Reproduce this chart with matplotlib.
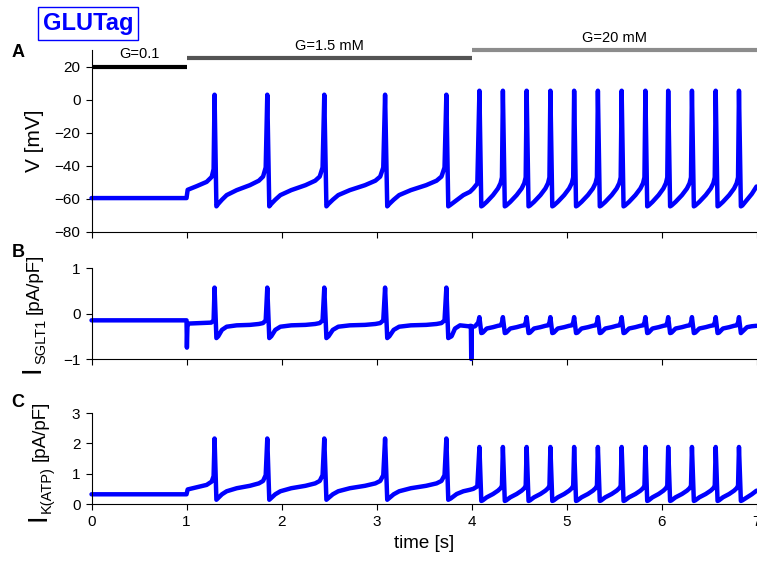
import numpy as np
import matplotlib.pyplot as plt

plt.rcParams['font.family'] = ['Liberation Sans', 'DejaVu Sans']

# Spike times [s]
spikes_15 = [1.295, 1.85, 2.45, 3.09, 3.735]                       # G=1.5 mM
spikes_20 = [4.083, 4.33, 4.58, 4.83, 5.08, 5.33, 5.58, 5.83,
             6.07, 6.32, 6.57, 6.815]                               # G=20 mM

# Points of one interspike interval (fraction of the interval)
phase_15 = [0.0, 0.035, 0.07, 0.14, 0.23, 0.42, 0.67, 0.84, 0.92, 0.97]
phase_20 = [0.0, 0.08, 0.14, 0.31, 0.58, 0.79, 0.9, 0.96]

# --- A: membrane potential [mV]
peak_A = [3.0, 5.4]
cyc15_A = [-64.5, -63, -60.5, -57.7, -54.7, -51.7, -49, -46.5, -41]
cyc20_A = [-64.5, -64, -61.8, -57.7, -53.7, -50.5, -47]
pre_t = [0, 1.0, 1.012, 1.107, 1.212, 1.265, 1.285]
pre_A = [-59.5, -59.5, -54.5, -52.3, -49.7, -46.7, -42]
trans_t = [3.755, 3.78, 3.844, 3.914, 3.984, 4.019, 4.061]
trans_A = [-64.5, -63.5, -60.7, -57.7, -55.7, -53.7, -50.7]
tail_t = [6.835, 6.85, 6.9, 6.95, 7.0]
tail_A = [-64.5, -64, -60.5, -57, -52.5]

# --- B: SGLT1 current [pA/pF]
peak_B = [0.57, -0.08]
cyc15_B = [-0.54, -0.5, -0.36, -0.29, -0.26, -0.25, -0.23, -0.21, -0.15]
cyc20_B = [-0.43, -0.42, -0.33, -0.3, -0.27, -0.26, -0.2]
pre_tB = [0, 1.0, 1.004, 1.01, 1.03, 1.26, 1.285]
pre_B = [-0.15, -0.15, -0.75, -0.25, -0.22, -0.2, -0.15]
trans_tB = [3.755, 3.79, 3.826, 3.879, 3.966, 3.993, 3.997, 4.003, 4.037, 4.07]
trans_B = [-0.54, -0.5, -0.33, -0.26, -0.28, -0.27, -1.0, -0.3, -0.28, -0.2]
tail_B = [-0.43, -0.4, -0.3, -0.28, -0.27]

# --- C: K(ATP) current [pA/pF]
peak_C = [2.16, 1.88]
cyc15_C = [0.14, 0.2, 0.32, 0.42, 0.52, 0.6, 0.68, 0.76, 0.95]
cyc20_C = [0.1, 0.12, 0.22, 0.33, 0.44, 0.52, 0.6]
pre_C = [0.32, 0.32, 0.48, 0.55, 0.63, 0.74, 0.92]
trans_C = [0.14, 0.18, 0.33, 0.42, 0.47, 0.5, 0.58]
tail_C = [0.1, 0.12, 0.22, 0.32, 0.44]

# glucose protocol bars
g_labels = ['G=0.1', 'G=1.5 mM', 'G=20 mM']
g_start = [0, 1, 4]
g_end = [1, 4, 7]
g_level = [20, 25, 30]
g_colors = ['k', '0.33', '0.55']


def build_trace(pre_tt, pre_v, peaks, cyc15, cyc20, tr_t, tr_v, tl_v):
    t = list(pre_tt)
    v = list(pre_v)
    for i, s in enumerate(spikes_15):
        t.append(s)
        v.append(peaks[0])
        if i + 1 < len(spikes_15):
            dt = spikes_15[i + 1] - s
            t += [s + p * dt for p in phase_15[1:]]
            v += cyc15
    t += tr_t
    v += tr_v
    for i, s in enumerate(spikes_20):
        t.append(s)
        v.append(peaks[1])
        if i + 1 < len(spikes_20):
            dt = spikes_20[i + 1] - s
            t += [s + p * dt for p in phase_20[1:]]
            v += cyc20
    t += tail_t
    v += tl_v
    return np.array(t), np.array(v)


tA, vA = build_trace(pre_t, pre_A, peak_A, cyc15_A, cyc20_A, trans_t, trans_A, tail_A)
tB, vB = build_trace(pre_tB, pre_B, peak_B, cyc15_B, cyc20_B, trans_tB, trans_B, tail_B)
tC, vC = build_trace(pre_t, pre_C, peak_C, cyc15_C, cyc20_C, trans_t, trans_C, tail_C)

W, H = 757, 562
fig = plt.figure(figsize=(W / 100, H / 100), dpi=100)
left, width = 0.1209, 0.8785
axA = fig.add_axes([left, 0.5872, width, 0.3238])
axB = fig.add_axes([left, 0.3612, width, 0.1619])
axC = fig.add_axes([left, 0.1032, width, 0.1619])

blue = (0, 0, 1)
minus = plt.FuncFormatter(lambda y, p: f'{y:g}'.replace('-', '\u2212'))
for ax, t, v in [(axA, tA, vA), (axB, tB, vB), (axC, tC, vC)]:
    ax.plot(t, v, color=blue, lw=3.2, solid_joinstyle='round',
            solid_capstyle='round', clip_on=False)
    ax.set_xlim(0, 7)
    ax.set_xticks(range(8))
    ax.spines['top'].set_visible(False)
    ax.spines['right'].set_visible(False)
    ax.tick_params(direction='out', length=4.5, width=0.8, labelsize=11)
    ax.yaxis.set_major_formatter(minus)
    ax.patch.set_alpha(0)

axA.set_ylim(-80, 30)
axA.set_yticks([-80, -60, -40, -20, 0, 20])
axB.set_ylim(-1, 1)
axB.set_yticks([-1, 0, 1])
axC.set_ylim(0, 3)
axC.set_yticks([0, 1, 2, 3])
axA.set_xticklabels([])
axB.set_xticklabels([])

# glucose steps above the voltage trace
for lab, x0, x1, lev, c in zip(g_labels, g_start, g_end, g_level, g_colors):
    axA.plot([x0, x1], [lev, lev], color=c, lw=3, solid_capstyle='butt', clip_on=False)
    axA.text((x0 + x1) / 2, lev + 7.5, lab, ha='center', va='center', fontsize=10.5)

axC.set_xlabel('time [s]', fontsize=13.5)


def stacked_ylabel(x_px, yc_px, parts, gaps):
    # vertical label built from pieces of different size: (text, size, baseline shift)
    r = fig.canvas.get_renderer()
    lens = []
    for s, fs, _ in parts:
        tmp = fig.text(0, 0, s, fontsize=fs, rotation=90)
        lens.append(tmp.get_window_extent(r).height)
        tmp.remove()
    y = yc_px + (sum(lens) + sum(gaps)) / 2
    for k, ((s, fs, dx), L) in enumerate(zip(parts, lens)):
        fig.text((x_px + dx) / W, 1 - y / H, s, fontsize=fs, rotation=90,
                 rotation_mode='anchor', ha='left', va='baseline')
        y -= L + (gaps[k] if k < len(gaps) else 0)


fig.text(40 / W, 1 - 141 / H, 'V [mV]', fontsize=15, rotation=90,
         rotation_mode='anchor', ha='center', va='baseline')
stacked_ylabel(39, 313.5, [('I', 20, 0), ('SGLT1', 10.5, 6), ('[pA/pF]', 13.5, 0)], [1, 5])
stacked_ylabel(45, 461, [('I', 20, 0), ('K(ATP)', 10.5, 6), ('[pA/pF]', 13.5, 0)], [1, 5])

for letter, y in [('A', 0.9066), ('B', 0.5516), ('C', 0.2838)]:
    fig.text(0.0235, y, letter, fontsize=13, fontweight='bold', ha='center', va='center')

fig.text(0.1163, 0.958, 'GLUTag', color=blue, fontsize=17, fontweight='bold',
         ha='center', va='center',
         bbox=dict(boxstyle='square,pad=0.2', fc='white', ec=blue, lw=1))

fig.savefig('out.png', dpi=100)
